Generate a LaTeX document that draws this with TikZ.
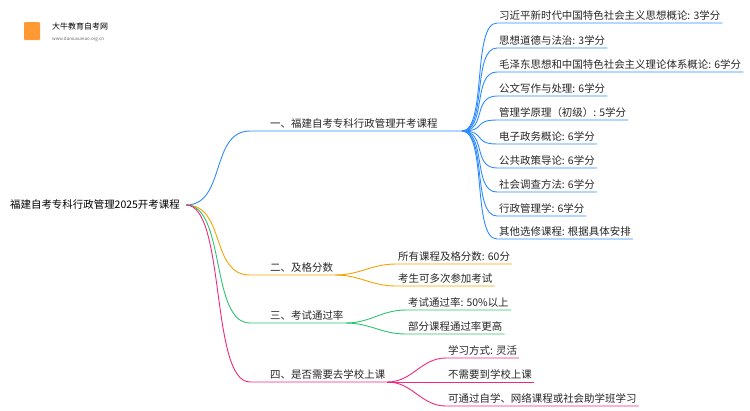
\documentclass[tikz,border=0pt]{standalone}
\usepackage{fontspec}
\setmainfont{Noto Sans CJK SC}
\usepackage{tikz}
\definecolor{cblue}{HTML}{2E8BFF}
\definecolor{corange}{HTML}{F5A300}
\definecolor{cgreen}{HTML}{2DC46E}
\definecolor{cpink}{HTML}{F0287A}
\tikzset{
  leaf/.style={anchor=south west, inner sep=2pt, font=\fontsize{10.5}{12}\selectfont, text=black!85},
  link/.style={line width=0.9pt},
}
\newcommand{\bough}[3]{\draw[link,#1] (#2) .. controls +(25,0) and +(-25,0) .. (#3.south west) -- (#3.south east);}
\begin{document}
\begin{tikzpicture}[x=1bp, y=-1bp]
        \useasboundingbox (0,0) rectangle (750,410);
        % logo
        \fill[orange!80, rounded corners=1pt] (24,22) rectangle (40,40);
        \node[anchor=west, font=\fontsize{8}{9}\selectfont, inner sep=0] (logo) at (52,26) {大牛教育自考网};
        \node[anchor=west, font=\fontsize{4.5}{5}\selectfont, text=black!60, inner sep=0] (url) at (52,39) {www.daniuxueiao.org.cn};

        % root
        \node[anchor=east, font=\fontsize{10.5}{12}\selectfont, inner sep=2pt] (root) at (182,205) {福建自考专科行政管理2025开考课程};
        \coordinate (r) at (186,205);

        % branch 1
        \node[leaf] (b1) at (268,131) {一、福建自考专科行政管理开考课程};
        \draw[link,cblue] (r) .. controls +(40,0) and +(-40,0) .. (250,131) -- (462,131) coordinate (h1);
        \foreach \y/\txt [count=\i] in {23/习近平新时代中国特色社会主义思想概论: 3学分, 48/思想道德与法治: 3学分, 72/毛泽东思想和中国特色社会主义理论体系概论: 6学分, 96/公文写作与处理: 6学分, 120/管理学原理（初级）: 5学分, 144/电子政务概论: 6学分, 168/公共政策导论: 6学分, 192/社会调查方法: 6学分, 216/行政管理学: 6学分, 239/其他选修课程: 根据具体安排}{
          \node[leaf] (a\i) at (497,\y) {\txt};
          \bough{cblue}{h1}{a\i}
        }

        % branch 2
        \node[leaf] (b2) at (268,275) {二、及格分数};
        \draw[link,corange] (r) .. controls +(40,0) and +(-40,0) .. (250,275) -- (b2.south east) coordinate (h2);
        \node[leaf] (o1) at (396,264) {所有课程及格分数: 60分};
        \node[leaf] (o2) at (396,286) {考生可多次参加考试};
        \bough{corange}{h2}{o1}
        \bough{corange}{h2}{o2}

        % branch 3
        \node[leaf] (b3) at (268,323) {三、考试通过率};
        \draw[link,cgreen] (r) .. controls +(40,0) and +(-40,0) .. (250,323) -- (b3.south east) coordinate (h3);
        \node[leaf] (g1) at (406,310) {考试通过率: 50\%以上};
        \node[leaf] (g2) at (406,334) {部分课程通过率更高};
        \bough{cgreen}{h3}{g1}
        \bough{cgreen}{h3}{g2}

        % branch 4
        \node[leaf] (b4) at (268,382) {四、是否需要去学校上课};
        \draw[link,cpink] (r) .. controls +(40,0) and +(-40,0) .. (250,382) -- (b4.south east) coordinate (h4);
        \node[leaf] (p1) at (446,358) {学习方式: 灵活};
        \node[leaf] (p2) at (446,382) {不需要到学校上课};
        \node[leaf] (p3) at (446,406) {可通过自学、网络课程或社会助学班学习};
        \bough{cpink}{h4}{p1}
        \bough{cpink}{h4}{p2}
        \bough{cpink}{h4}{p3}
\end{tikzpicture}
\end{document}
